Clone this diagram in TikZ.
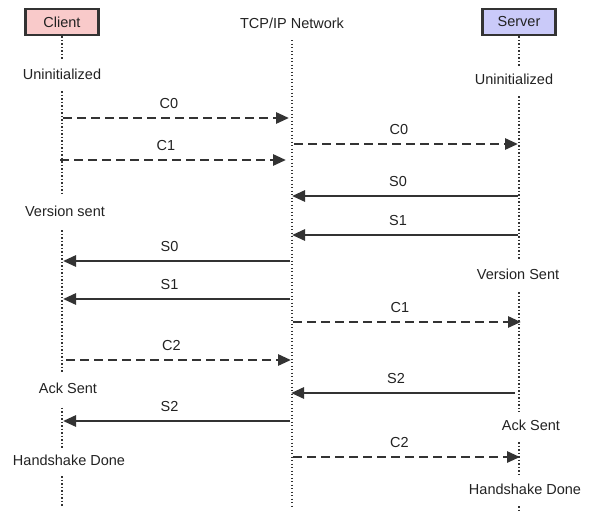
\documentclass[tikz,border=0pt]{standalone}
\usepackage{fontspec}
\setmainfont{Liberation Sans}
\usetikzlibrary{arrows.meta}
\definecolor{ink}{HTML}{333333}
\definecolor{txt}{HTML}{222222}
\definecolor{clientfill}{HTML}{F9CACA}
\definecolor{serverfill}{HTML}{CACAF9}
\begin{document}
\begin{tikzpicture}[x=1pt,y=-1pt,
  font=\fontsize{14.5}{17}\selectfont, text=txt,
  actor/.style={draw=ink, line width=2.8pt, minimum width=73pt, minimum height=26pt, inner sep=0pt},
  state/.style={inner sep=0pt, text height=10.5pt, text depth=3pt},
  life/.style={draw=ink, line width=1.6pt, dash pattern=on 1.3pt off 2.2pt},
  msg/.style={draw=ink, line width=2.8pt, -{Triangle[length=13pt,width=11pt]}},
  dmsg/.style={msg, dash pattern=on 9pt off 5pt},
  lbl/.style={above=5pt, xshift=-7pt, inner sep=0pt, text height=10.5pt, text depth=3pt}]
\useasboundingbox (0,0) rectangle (596,517);

% actors
\node[actor, fill=clientfill] (client) at (62,22) {Client};
\node[actor, fill=serverfill] (server) at (519,22) {Server};
\node[inner sep=0pt] (net) at (292,23) {TCP/IP Network};

% client states
\node[state, minimum height=30pt] (cu) at (62,76) {Uninitialized};
\node[state, minimum height=34pt] (cv) at (65,213) {Version sent};
\node[state, minimum height=35pt] (ca) at (68,390) {Ack Sent};
\node[state, minimum height=28pt] (ch) at (69,462) {Handshake Done};
\coordinate (cend) at (62,507);

% server states
\node[state, minimum height=30pt] (su) at (514,81) {Uninitialized};
\node[state, minimum height=32pt] (sv) at (518,276) {Version Sent};
\node[state, minimum height=30pt] (sa) at (531,427) {Ack Sent};
\node[state, minimum height=30pt] (sh) at (525,491) {Handshake Done};
\coordinate (send) at (519,510);

% network lifeline
\coordinate (ntop) at (292,40);
\coordinate (nend) at (292,507);
\draw[life] (ntop) -- (nend);

% client lifeline
\draw[life] (client.south) -- (client |- cu.north);
\draw[life] (client |- cu.south) -- (client |- cv.north);
\draw[life] (client |- cv.south) -- (client |- ca.north);
\draw[life] (client |- ca.south) -- (client |- ch.north);
\draw[life] (client |- ch.south) -- (cend);

% server lifeline
\draw[life] (server.south) -- (server |- su.north);
\draw[life] (server |- su.south) -- (server |- sv.north);
\draw[life] (server |- sv.south) -- (server |- sa.north);
\draw[life] (server |- sa.south) -- (server |- sh.north);
\draw[life] (server |- sh.south) -- (send);

% message end points
\coordinate (c1) at (63,118);  \coordinate (n1) at (289,118);
\coordinate (n2) at (294,144); \coordinate (s2) at (518,144);
\coordinate (c3) at (60,160);  \coordinate (n3) at (286,160);
\coordinate (s4) at (518,196); \coordinate (n4) at (292,196);
\coordinate (s5) at (518,235); \coordinate (n5) at (292,235);
\coordinate (n6) at (290,261); \coordinate (c6) at (63,261);
\coordinate (n7) at (290,299); \coordinate (c7) at (63,299);
\coordinate (n8) at (293,322); \coordinate (s8) at (521,322);
\coordinate (c9) at (66,360);  \coordinate (n9) at (291,360);
\coordinate (s10) at (515,393); \coordinate (n10) at (291,393);
\coordinate (n11) at (290,421); \coordinate (c11) at (63,421);
\coordinate (n12) at (293,457); \coordinate (s12) at (520,457);

\draw[dmsg] (c1) -- node[lbl] {C0} (n1);
\draw[dmsg] (n2) -- node[lbl] {C0} (s2);
\draw[dmsg] (c3) -- node[lbl] {C1} (n3);
\draw[msg] (s4) -- node[lbl] {S0} (n4);
\draw[msg] (s5) -- node[lbl] {S1} (n5);
\draw[msg] (n6) -- node[lbl] {S0} (c6);
\draw[msg] (n7) -- node[lbl] {S1} (c7);
\draw[dmsg] (n8) -- node[lbl] {C1} (s8);
\draw[dmsg] (c9) -- node[lbl] {C2} (n9);
\draw[msg] (s10) -- node[lbl] {S2} (n10);
\draw[msg] (n11) -- node[lbl] {S2} (c11);
\draw[dmsg] (n12) -- node[lbl] {C2} (s12);
\end{tikzpicture}
\end{document}
